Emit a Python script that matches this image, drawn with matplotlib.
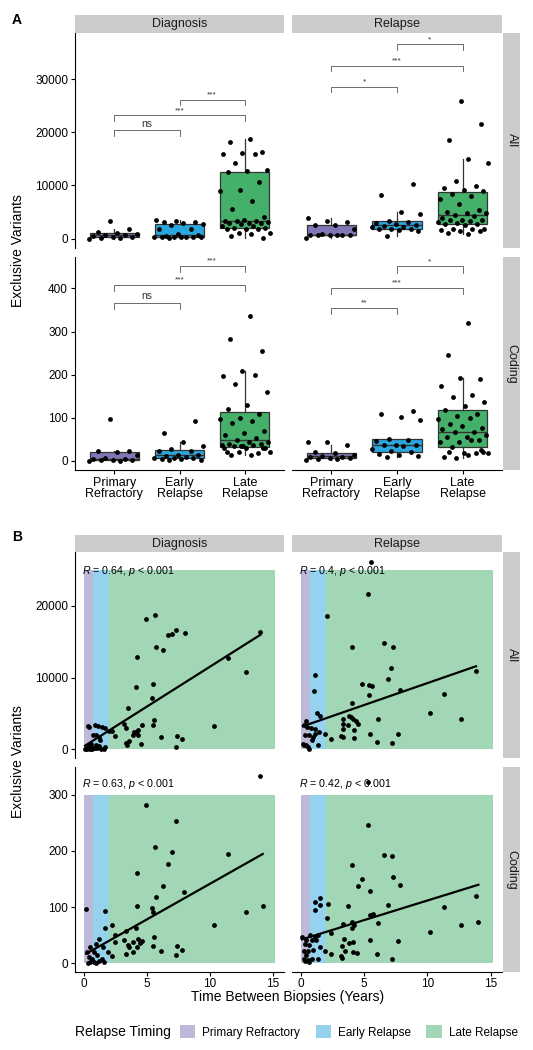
import numpy as np
import matplotlib
matplotlib.use('Agg')
from matplotlib import pyplot as plt
from matplotlib.patches import Patch, Rectangle

plt.rcParams['font.family'] = ['Liberation Sans', 'DejaVu Sans']
plt.rcParams['mathtext.fontset'] = 'custom'
plt.rcParams['mathtext.rm'] = 'Liberation Sans'
plt.rcParams['mathtext.it'] = 'Liberation Sans:italic'

# ---- labels / categories
groups = ['Primary\nRefractory', 'Early\nRelapse', 'Late\nRelapse']
timing_labels = ['Primary Refractory', 'Early Relapse', 'Late Relapse']
phases = ['Diagnosis', 'Relapse']
rows = ['All', 'Coding']
timing_colors = ['#8175b4', '#2aa7df', '#45b06a']

# ---- panel A: exclusive variants per relapse timing group
diag_all_primary = [0, 120, 190, 250, 300, 500, 650, 700, 950, 1000, 1250, 1750, 3300]
diag_all_early = [190, 370, 370, 370, 370, 370, 370, 400, 500, 620, 800, 1740, 1860, 2600, 2700,
                  2860, 3100, 3100, 3290, 3480]
diag_all_late = [18700, 18200, 16300, 16100, 16000, 15900, 14200, 12900, 12800, 12600, 10600, 9200,
                 8900, 7000, 5600, 4100, 3480, 3290, 3290, 3290, 3100, 2980, 2860, 2860, 2670, 2360,
                 2360, 2050, 2050, 1860, 1740, 1740, 1120, 1120, 810, 500, 190]
rel_all_primary = [190, 750, 750, 750, 750, 750, 750, 810, 1740, 2500, 2600, 3100, 3290, 3900]
rel_all_early = [500, 1430, 1620, 1740, 1850, 1900, 2170, 2170, 2450, 2600, 2670, 2860, 3100, 3290,
                 4720, 5030, 8140, 10300]
rel_all_late = [930, 1120, 1430, 1430, 1610, 1740, 1740, 1860, 2480, 2670, 2800, 2900, 3100, 3290,
                3480, 3600, 3600, 3910, 4350, 4530, 4840, 4900, 5090, 5340, 6580, 7510, 8070, 8450,
                8880, 9070, 9500, 9940, 10870, 14300, 14900, 18500, 21600, 25960]
diag_cod_primary = [1, 1, 2, 2, 2, 4, 5, 6, 14, 20, 22, 24, 98]
diag_cod_early = [2, 2, 5, 5, 6, 6, 7, 9, 12, 14, 14, 22, 24, 27, 35, 45, 65, 92]
diag_cod_late = [337, 283, 255, 209, 198, 199, 178, 160, 130, 120, 108, 100, 98, 92, 88, 69, 65, 61,
                 53, 49, 45, 45, 40, 40, 35, 37, 37, 35, 30, 30, 20, 18, 20, 20, 14, 14, 30, 34, 30]
rel_cod_primary = [2, 4, 4, 6, 6, 8, 10, 12, 14, 18, 20, 37, 43, 45]
rel_cod_early = [10, 12, 14, 16, 20, 24, 27, 35, 37, 37, 37, 46, 49, 50, 94, 103, 109, 115]
rel_cod_late = [321, 246, 190, 193, 174, 154, 149, 136, 128, 117, 108, 104, 97, 100, 86, 77, 80, 74,
                68, 66, 60, 55, 56, 49, 44, 43, 49, 33, 21, 18, 10, 18, 6, 18, 14, 20, 26]

# significance brackets: (group a, group b, height, label)
sig_diag_all = [(0, 1, 20370, 'ns'), (0, 2, 23160, '***'), (1, 2, 26080, '***')]
sig_rel_all = [(0, 1, 28570, '*'), (0, 2, 32480, '***'), (1, 2, 36510, '*')]
sig_diag_cod = [(0, 1, 367, 'ns'), (0, 2, 408, '***'), (1, 2, 453, '***')]
sig_rel_cod = [(0, 1, 354, '**'), (0, 2, 402, '***'), (1, 2, 451, '*')]

# ---- panel B: time between biopsies (years) vs exclusive variants
diag_all_t = [4.95, 5.69, 6.69, 7.01, 7.33, 8.02, 14.02, 5.74, 6.27, 4.21, 11.43, 12.86, 4.18, 5.53,
              5.40, 3.52, 5.56, 5.50, 4.63, 3.23, 3.36, 2.49, 3.97, 4.18, 4.29, 3.89, 4.34, 3.44,
              3.33, 3.57, 4.55, 6.16, 7.38, 7.80, 7.35, 10.37, 0.34, 0.85, 1.11, 1.46, 1.72, 1.98,
              2.25, 0.71, 0.98, 1.19, 1.32, 0.61, 0.40, 0.53, 0.79, 1.06, 1.40, 1.67, 0.26, 0.45,
              0.66, 0.93, 1.59, 0.38, 0.20, 0.50, 0.10, 0.65, 1.20, 0.90]
diag_all_v = [18230, 18790, 16000, 16140, 16690, 16230, 16370, 14280, 13860, 12880, 12790, 10740,
              8740, 9110, 7110, 5720, 4140, 3440, 3350, 3580, 3020, 1910, 2420, 2420, 2650, 2050,
              2050, 650, 930, 1120, 700, 1720, 1910, 1440, 330, 3260, 3260, 3440, 3300, 3120, 2980,
              2600, 2600, 1950, 2050, 1720, 1350, 790, 330, 90, 190, 230, 90, 330, 90, 560, 0, 560,
              0, 3100, 200, 400, 100, 250, 400, 150]
rel_all_t = [5.55, 5.29, 2.08, 4.08, 6.61, 7.26, 7.13, 6.87, 13.84, 4.84, 5.42, 5.63, 5.37, 7.87,
             11.29, 4.08, 10.21, 12.68, 6.13, 1.08, 1.03, 1.29, 1.55, 3.37, 3.79, 3.97, 4.16, 4.39,
             4.50, 3.34, 3.74, 3.32, 4.18, 3.18, 3.32, 4.18, 2.39, 5.47, 7.66, 6.03, 7.24, 0.42,
             0.24, 0.50, 0.82, 1.13, 1.47, 1.87, 0.29, 0.68, 0.95, 0.16, 0.42, 0.68, 0.55, 0.24,
             1.39, 0.87, 1.08]
rel_all_v = [26130, 21720, 18600, 14280, 14880, 14280, 11350, 9860, 10930, 9070, 8930, 8790, 7530,
             8320, 7770, 6460, 5120, 4230, 4190, 10320, 8140, 5020, 4600, 4280, 4600, 4510, 4280,
             3910, 3580, 3580, 3440, 2880, 2740, 1860, 1720, 1580, 1400, 2090, 2190, 1020, 930, 3910,
             3350, 3120, 2980, 2880, 2420, 2190, 2050, 1950, 1720, 790, 560, 90, 330, 560, 560,
             1260, 2190]
diag_cod_t = [14.02, 4.95, 7.30, 5.69, 7.01, 6.72, 11.43, 4.21, 6.27, 7.96, 5.74, 4.21, 5.40, 5.53,
              12.86, 14.21, 10.37, 0.19, 1.67, 1.67, 2.22, 3.39, 2.51, 4.18, 5.58, 5.50, 3.23, 2.51,
              3.52, 3.57, 3.92, 4.31, 4.63, 4.26, 4.47, 3.92, 3.36, 6.16, 7.38, 7.80, 7.33, 2.20,
              1.93, 1.24, 0.93, 0.53, 1.51, 0.26, 0.79, 1.06, 0.40, 0.66, 0.53, 0.79, 1.19, 1.59,
              0.34, 0.98, 1.46]
diag_cod_v = [333, 281, 253, 207, 197, 177, 194, 161, 138, 127, 118, 101, 98, 91, 92, 101, 68, 97,
              93, 63, 68, 57, 51, 63, 47, 31, 41, 38, 32, 29, 37, 44, 40, 29, 36, 20, 16, 21, 30,
              23, 14, 13, 20, 44, 35, 29, 29, 20, 20, 15, 11, 8, 2, 2, 4, 2, 1, 0, 8]
rel_cod_t = [5.34, 5.29, 6.61, 7.18, 4.08, 7.29, 7.87, 4.84, 4.50, 5.45, 13.84, 14.03, 11.29, 6.89,
             3.76, 5.45, 5.68, 4.08, 4.18, 4.05, 3.37, 6.13, 10.21, 12.68, 2.39, 2.08, 1.08, 1.55,
             1.13, 1.55, 2.13, 3.39, 3.79, 4.16, 5.45, 7.66, 3.26, 3.45, 4.16, 4.42, 3.18, 3.24,
             6.03, 7.24, 2.39, 0.08, 0.42, 0.76, 1.08, 1.34, 0.87, 1.21, 0.29, 0.68, 1.53, 1.87,
             0.95, 0.24, 0.55, 0.42, 0.24, 0.55, 0.68, 0.34, 1.39, 0.87]
rel_cod_v = [322, 246, 192, 190, 174, 154, 140, 149, 138, 128, 119, 73, 100, 104, 102, 85, 87, 74,
             68, 62, 69, 72, 55, 68, 53, 81, 109, 116, 94, 104, 106, 44, 36, 37, 41, 40, 31, 21, 20,
             18, 13, 10, 17, 8, 17, 46, 41, 50, 47, 50, 41, 41, 35, 32, 29, 22, 24, 22, 21, 14, 8,
             5, 2, 4, 8, 8]

r_labels = ['0.64', '0.4', '0.63', '0.42']
band_edges = [0, 0.75, 2.0, 15.2]
band_tops = [25000, 300]

box_data = {
    ('Diagnosis', 'All'): [diag_all_primary, diag_all_early, diag_all_late],
    ('Relapse', 'All'): [rel_all_primary, rel_all_early, rel_all_late],
    ('Diagnosis', 'Coding'): [diag_cod_primary, diag_cod_early, diag_cod_late],
    ('Relapse', 'Coding'): [rel_cod_primary, rel_cod_early, rel_cod_late],
}
sig_data = {
    ('Diagnosis', 'All'): sig_diag_all, ('Relapse', 'All'): sig_rel_all,
    ('Diagnosis', 'Coding'): sig_diag_cod, ('Relapse', 'Coding'): sig_rel_cod,
}
scatter_data = {
    ('Diagnosis', 'All'): (diag_all_t, diag_all_v), ('Relapse', 'All'): (rel_all_t, rel_all_v),
    ('Diagnosis', 'Coding'): (diag_cod_t, diag_cod_v), ('Relapse', 'Coding'): (rel_cod_t, rel_cod_v),
}

W, H = 533.0, 1050.0
fig = plt.figure(figsize=(5.33, 10.5), dpi=100)


def add_box(x0, y0, x1, y1):
    return fig.add_axes([x0 / W, 1 - y1 / H, (x1 - x0) / W, (y1 - y0) / H])


def strip(x0, y0, x1, y1, text, rot=0):
    s = add_box(x0, y0, x1, y1)
    s.set_facecolor('#cccccc')
    s.set_xticks([])
    s.set_yticks([])
    for sp in s.spines.values():
        sp.set_visible(False)
    s.text(0.5, 0.5, text, ha='center', va='center', rotation=rot, fontsize=9,
           color='#1a1a1a', transform=s.transAxes)


def style(ax, left, bottom):
    ax.spines['top'].set_visible(False)
    ax.spines['right'].set_visible(False)
    ax.spines['left'].set_visible(left)
    ax.spines['bottom'].set_visible(bottom)
    for k in ['left', 'bottom']:
        ax.spines[k].set_linewidth(0.8)
    ax.tick_params(length=3, width=0.8, labelsize=8.5, pad=2, colors='black')
    if not left:
        ax.tick_params(axis='y', left=False, labelleft=False)
    if not bottom:
        ax.tick_params(axis='x', bottom=False, labelbottom=False)


col_x = [(75, 284), (292, 502)]
rowA_y = [(33, 248), (257, 470)]
rowB_y = [(552, 758), (767, 972)]

# ---------------- panel A
ylimA = [(-1750, 38650), (-21, 473)]
yticksA = [[0, 10000, 20000, 30000], [0, 100, 200, 300, 400]]
tipA = [1000, 14]
for r, row in enumerate(rows):
    for c, ph in enumerate(phases):
        x0, x1 = col_x[c]
        y0, y1 = rowA_y[r]
        ax = add_box(x0, y0, x1, y1)
        vals = box_data[(ph, row)]
        bp = ax.boxplot(vals, positions=[1, 2, 3], widths=0.75, patch_artist=True,
                        showfliers=False, showcaps=False, whis=1.5,
                        medianprops=dict(color='#333333', lw=1.0),
                        whiskerprops=dict(color='#333333', lw=0.9),
                        boxprops=dict(edgecolor='#333333', lw=0.9))
        for patch, col in zip(bp['boxes'], timing_colors):
            patch.set_facecolor(col)
        for g, v in enumerate(vals):
            n = len(v)
            off = ((np.arange(n) * 0.618034 + 0.3 * g) % 1 - 0.5) * 0.78
            ax.scatter(g + 1 + off, v, s=12, color='black', linewidths=0, zorder=3)
        for a, b, yb, lab in sig_data[(ph, row)]:
            ax.plot([a + 1, a + 1, b + 1, b + 1], [yb - tipA[r], yb, yb, yb - tipA[r]],
                    color='#555555', lw=0.6)
            ax.text((a + b) / 2 + 1, yb + tipA[r] * 0.25, lab, ha='center', va='bottom',
                    fontsize=7.5 if lab == 'ns' else 6, color='#333333')
        ax.set_xlim(0.4, 3.6)
        ax.set_ylim(*ylimA[r])
        style(ax, c == 0, r == 1)
        ax.set_yticks(yticksA[r])
        ax.set_yticklabels([str(t) for t in yticksA[r]])
        ax.set_xticks([1, 2, 3])
        ax.set_xticklabels(groups, fontsize=9, linespacing=0.95)
        if r == 0:
            strip(x0, 15, x1, 33, ph)
    strip(503, rowA_y[r][0], 520, rowA_y[r][1], row, rot=-90)

# ---------------- panel B
ylimB = [(-1213, 27520), (-15.5, 349)]
yticksB = [[0, 10000, 20000], [0, 100, 200, 300]]
k = 0
for r, row in enumerate(rows):
    for c, ph in enumerate(phases):
        x0, x1 = col_x[c]
        y0, y1 = rowB_y[r]
        ax = add_box(x0, y0, x1, y1)
        for i in range(3):
            ax.add_patch(Rectangle((band_edges[i], 0), band_edges[i + 1] - band_edges[i],
                                   band_tops[r], facecolor=timing_colors[i], alpha=0.5,
                                   edgecolor='none', zorder=0))
        t, v = scatter_data[(ph, row)]
        t = np.array(t)
        v = np.array(v)
        ax.scatter(t, v, s=12, color='black', linewidths=0, zorder=3)
        m, b0 = np.polyfit(t, v, 1)
        xx = np.array([t.min(), t.max()])
        ax.plot(xx, m * xx + b0, color='black', lw=1.6, zorder=2)
        ax.text(0.035, 0.91 if r == 0 else 0.918,
                r'$R$' + ' = ' + r_labels[k] + ', ' + r'$p$' + ' < 0.001',
                transform=ax.transAxes, ha='left', va='center', fontsize=7.7, zorder=4)
        k += 1
        ax.set_xlim(-0.7, 15.9)
        ax.set_ylim(*ylimB[r])
        style(ax, c == 0, r == 1)
        ax.tick_params(axis='x', pad=1.5)
        ax.set_yticks(yticksB[r])
        ax.set_yticklabels([str(tk) for tk in yticksB[r]])
        ax.set_xticks([0, 5, 10, 15])
        if r == 0:
            strip(x0, 535, x1, 552, ph)
    strip(503, rowB_y[r][0], 520, rowB_y[r][1], row, rot=-90)

# ---------------- labels
fig.text(12 / W, 1 - 20 / H, 'A', fontsize=10, fontweight='bold', va='center')
fig.text(12 / W, 1 - 537 / H, 'B', fontsize=10, fontweight='bold', va='center')
fig.text(18 / W, 1 - 251 / H, 'Exclusive Variants', rotation=90, fontsize=10,
         ha='center', va='center')
fig.text(18 / W, 1 - 762 / H, 'Exclusive Variants', rotation=90, fontsize=10,
         ha='center', va='center')
fig.text(288 / W, 1 - 997 / H, 'Time Between Biopsies (Years)', fontsize=10,
         ha='center', va='center')

handles = [Patch(facecolor=col, alpha=0.5, edgecolor='none', label=lab)
           for col, lab in zip(timing_colors, timing_labels)]
fig.text(75 / W, 1 - 1032 / H, 'Relapse Timing', fontsize=10, ha='left', va='center')
fig.legend(handles=handles, loc='center left', bbox_to_anchor=(180 / W, 1 - 1032 / H),
           ncol=3, frameon=False, fontsize=8.5, handlelength=1.3, handleheight=1.3,
           handletextpad=0.6, columnspacing=1.3, borderpad=0, borderaxespad=0)

fig.savefig('out.png', dpi=100)
